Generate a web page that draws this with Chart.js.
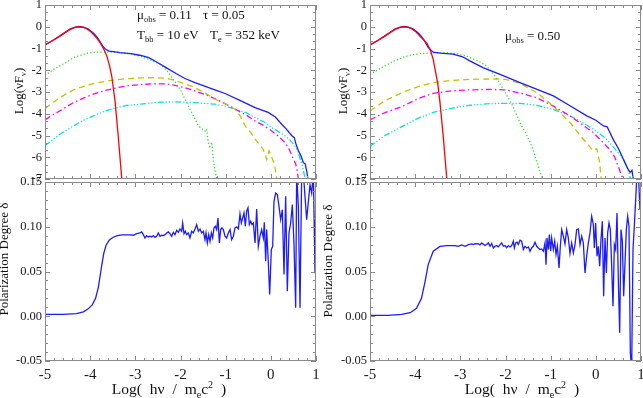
<!DOCTYPE html>
<html>
<head>
<meta charset="utf-8">
<script src="https://cdn.jsdelivr.net/npm/chart.js@4/dist/chart.umd.min.js"></script>
<style>
body { margin: 0; background: #fff; }
#wrap { position: relative; width: 643px; height: 398px; overflow: hidden; background: #fff;
        font-family: "Liberation Serif", "DejaVu Serif", serif; color: #111; }
#wrap canvas { position: absolute; left: 0; top: 0; }
.txt { position: absolute; white-space: nowrap; font-size: 13px; line-height: 14px; }
.rot { position: absolute; white-space: nowrap; font-size: 13px; line-height: 14px;
       transform: translate(-50%, -50%) rotate(-90deg); }
.xt  { position: absolute; white-space: nowrap; font-size: 15.5px; line-height: 16px; word-spacing: 4px;
       transform: translate(-50%, -50%); }
.sb { font-size: 0.65em; position: relative; top: 0.35em; }
.sp { font-size: 0.65em; position: relative; top: -0.6em; }
</style>
</head>
<body>
<div id="wrap">
  <canvas id="specL" width="643" height="398"></canvas>
  <canvas id="specR" width="643" height="398"></canvas>
  <canvas id="polL" width="643" height="398"></canvas>
  <canvas id="polR" width="643" height="398"></canvas>

  <div class="txt" style="left:137px;top:8px">&mu;<span class="sb">obs</span> = 0.11</div>
  <div class="txt" style="left:203px;top:8px">&tau; = 0.05</div>
  <div class="txt" style="left:137px;top:28px">T<span class="sb">bb</span> = 10 eV</div>
  <div class="txt" style="left:210px;top:28px">T<span class="sb">e</span> = 352 keV</div>
  <div class="txt" style="left:505px;top:29px">&mu;<span class="sb">obs</span> = 0.50</div>

  <div class="rot" style="left:19px;top:91px">Log(&nu;F<span class="sb">&nu;</span>)</div>
  <div class="rot" style="left:343px;top:91px">Log(&nu;F<span class="sb">&nu;</span>)</div>
  <div class="rot" style="left:4px;top:259px">Polarization Degree &delta;</div>
  <div class="rot" style="left:328px;top:261px">Polarization Degree &delta;</div>

  <div class="xt" style="left:169px;top:390px">Log( h&nu; / m<span class="sb">e</span>c<span class="sp">2</span> )</div>
  <div class="xt" style="left:522px;top:390px">Log( h&nu; / m<span class="sb">e</span>c<span class="sp">2</span> )</div>
</div>

<script>
// ==========================================================
// DATA — log(nu F_nu) spectra, mu_obs = 0.11 (left panel)
// ==========================================================

const bbL_x  = [-5, -4.8, -4.67, -4.55, -4.45, -4.35, -4.25, -4.15, -4.08, -4.0, -3.93, -3.85, -3.78, -3.7, -3.63, -3.57, -3.52, -3.45, -3.38, -3.3, -3.27];
const bbL_y  = [-0.84, -0.6, -0.43, -0.26, -0.13, -0.04, 0, -0.03, -0.09, -0.2, -0.35, -0.53, -0.73, -1.02, -1.35, -1.8, -2.3, -3.4, -5.0, -7.0, -7.5];

const totL_x = [-5, -4.8, -4.67, -4.55, -4.45, -4.35, -4.25, -4.15, -4.05, -3.95, -3.87, -3.8, -3.72, -3.65, -3.58, -3.45, -3.34, -3.1, -2.9, -2.7, -2.53, -2.3, -2.1, -1.9, -1.68, -1.45, -1.24, -1.0, -0.65, -0.35, -0.06, 0.1, 0.24, 0.35, 0.46, 0.52, 0.55, 0.61, 0.66, 0.72, 0.76, 0.8, 0.84];
const totL_y = [-0.84, -0.6, -0.42, -0.25, -0.11, -0.03, 0.01, -0.02, -0.1, -0.25, -0.42, -0.62, -0.9, -1.05, -1.12, -1.16, -1.19, -1.24, -1.31, -1.42, -1.62, -1.9, -2.15, -2.38, -2.57, -2.74, -2.9, -3.08, -3.42, -3.72, -3.94, -4.15, -4.48, -4.72, -5.0, -5.1, -5.35, -5.7, -5.9, -6.24, -6.3, -6.7, -7.3];

const sc1L_x = [-5, -4.8, -4.67, -4.5, -4.37, -4.2, -4.08, -3.9, -3.71, -3.5, -3.34, -3.1, -2.9, -2.7, -2.45, -2.3, -2.16, -2.0, -1.83, -1.7, -1.6, -1.46, -1.42, -1.39, -1.35, -1.31, -1.27, -1.2, -1.16];
const sc1L_y = [-2.23, -1.95, -1.8, -1.6, -1.42, -1.3, -1.22, -1.17, -1.16, -1.17, -1.19, -1.25, -1.35, -1.5, -1.73, -2.0, -2.42, -2.9, -3.63, -4.15, -4.56, -4.8, -4.7, -5.3, -5.5, -5.3, -6.2, -7.0, -7.3];

const sc2L_x = [-5, -4.8, -4.67, -4.5, -4.37, -4.15, -3.93, -3.7, -3.49, -3.2, -2.9, -2.6, -2.31, -2.12, -1.9, -1.68, -1.45, -1.24, -1.0, -0.79, -0.68, -0.57, -0.45, -0.35, -0.25, -0.17, -0.09, -0.04, 0.02, 0.08, 0.13, 0.15];
const sc2L_y = [-3.76, -3.45, -3.26, -3.05, -2.9, -2.75, -2.61, -2.52, -2.45, -2.39, -2.35, -2.34, -2.37, -2.47, -2.62, -2.8, -3.05, -3.33, -3.55, -3.79, -4.1, -4.56, -4.85, -5.17, -5.4, -5.63, -6.1, -5.7, -6.0, -6.3, -7.0, -7.3];

const sc3L_x = [-5, -4.8, -4.67, -4.5, -4.37, -4.15, -3.93, -3.7, -3.49, -3.2, -2.9, -2.6, -2.31, -2.12, -1.9, -1.68, -1.45, -1.24, -1.0, -0.79, -0.55, -0.35, -0.15, 0.02, 0.15, 0.31, 0.4, 0.5, 0.55, 0.58, 0.61, 0.63];
const sc3L_y = [-4.28, -4.02, -3.87, -3.65, -3.49, -3.28, -3.1, -2.95, -2.84, -2.72, -2.66, -2.62, -2.63, -2.7, -2.8, -2.95, -3.12, -3.3, -3.55, -3.79, -4.05, -4.33, -4.55, -4.79, -5.0, -5.32, -5.6, -6.09, -6.3, -6.6, -7.0, -7.3];

const sc4L_x = [-5, -4.8, -4.67, -4.5, -4.37, -4.15, -3.93, -3.7, -3.49, -3.2, -2.9, -2.5, -2.12, -1.68, -1.24, -1.0, -0.79, -0.55, -0.35, -0.15, 0.02, 0.15, 0.31, 0.42, 0.53, 0.6, 0.65, 0.7, 0.76, 0.78];
const sc4L_y = [-5.47, -5.15, -4.94, -4.72, -4.56, -4.3, -4.1, -3.9, -3.76, -3.62, -3.56, -3.48, -3.45, -3.49, -3.56, -3.65, -3.79, -3.95, -4.17, -4.38, -4.63, -4.8, -5.01, -5.2, -5.47, -5.7, -6.09, -6.4, -7.0, -7.3];


// ==========================================================
// DATA — spectra, mu_obs = 0.50 (right panel)
// ==========================================================

const bbR_x  = [-5, -4.8, -4.67, -4.55, -4.45, -4.35, -4.26, -4.15, -4.08, -4.0, -3.93, -3.85, -3.74, -3.66, -3.6, -3.56, -3.5, -3.45, -3.38, -3.3, -3.27];
const bbR_y  = [-0.84, -0.6, -0.43, -0.26, -0.13, -0.04, 0, -0.03, -0.09, -0.2, -0.35, -0.53, -0.75, -1.1, -1.5, -1.96, -2.6, -3.49, -5.0, -7.0, -7.5];

const totR_x = [-5, -4.8, -4.67, -4.55, -4.45, -4.35, -4.25, -4.15, -4.05, -3.95, -3.87, -3.8, -3.72, -3.65, -3.6, -3.45, -3.16, -2.95, -2.79, -2.5, -2.12, -1.68, -1.3, -0.94, -0.6, -0.2, 0.0, 0.17, 0.25, 0.39, 0.5, 0.61, 0.7, 0.76, 0.8, 0.83, 0.86];
const totR_y = [-0.84, -0.6, -0.42, -0.25, -0.11, -0.03, 0.01, -0.02, -0.1, -0.25, -0.42, -0.62, -0.92, -1.08, -1.17, -1.21, -1.26, -1.38, -1.57, -1.88, -2.19, -2.57, -2.88, -3.18, -3.6, -4.1, -4.3, -4.56, -4.6, -5.2, -5.6, -6.09, -6.5, -6.7, -6.6, -7.0, -7.3];

const sc1R_x = [-5, -4.8, -4.67, -4.5, -4.26, -4.1, -3.89, -3.6, -3.3, -3.05, -2.86, -2.6, -2.42, -2.2, -2.05, -1.85, -1.68, -1.55, -1.46, -1.38, -1.31, -1.18, -1.15];
const sc1R_y = [-2.19, -1.95, -1.8, -1.6, -1.4, -1.3, -1.24, -1.2, -1.19, -1.25, -1.35, -1.58, -1.8, -2.35, -2.87, -3.6, -4.4, -4.9, -5.3, -5.7, -6.2, -7.0, -7.3];

const sc2R_x = [-5, -4.67, -4.26, -3.93, -3.6, -3.2, -2.79, -2.3, -2.0, -1.68, -1.31, -1.05, -0.8, -0.55, -0.35, -0.2, -0.06, 0.02, 0.08, 0.12, 0.14];
const sc2R_y = [-3.87, -3.4, -3.0, -2.75, -2.57, -2.47, -2.42, -2.4, -2.42, -2.6, -3.03, -3.45, -3.94, -4.45, -5.0, -5.35, -5.7, -5.6, -6.2, -7.0, -7.3];

const sc3R_x = [-5, -4.67, -4.26, -3.93, -3.6, -3.2, -2.79, -2.3, -2.0, -1.68, -1.31, -0.94, -0.57, -0.3, -0.06, 0.1, 0.3, 0.42, 0.52, 0.56, 0.61, 0.63];
const sc3R_y = [-4.28, -3.95, -3.64, -3.3, -3.06, -2.95, -2.9, -2.88, -2.9, -3.05, -3.26, -3.65, -4.1, -4.5, -4.86, -5.2, -5.63, -6.0, -6.55, -6.8, -7.0, -7.3];

const sc4R_x = [-5, -4.67, -4.26, -3.93, -3.6, -3.2, -2.79, -2.3, -1.68, -1.31, -0.94, -0.57, -0.3, -0.06, 0.2, 0.3, 0.5, 0.61, 0.7, 0.77, 0.79];
const sc4R_y = [-5.5, -5.0, -4.56, -4.2, -3.94, -3.75, -3.61, -3.53, -3.52, -3.61, -3.8, -4.1, -4.4, -4.7, -5.1, -5.32, -5.8, -6.09, -6.5, -7.0, -7.3];


// ==========================================================
// DATA — polarization degree
// ==========================================================

const polL_x = [-5, -4.6, -4.3, -4.15, -4.05, -3.95, -3.88, -3.82, -3.78, -3.74, -3.7, -3.65, -3.58, -3.5, -3.4, -3.3, -3.2,
  -3.118, -3.044, -2.97, -2.897, -2.86, -2.823, -2.786, -2.749, -2.712, -2.675, -2.638, -2.601, -2.564, -2.528, -2.491, -2.454, -2.417, -2.38, -2.343, -2.306, -2.269, -2.232, -2.196, -2.159, -2.122, -2.085, -2.048, -2.011, -1.974, -1.952, -1.922, -1.893, -1.863, -1.827, -1.79, -1.753, -1.716, -1.679, -1.642, -1.605, -1.568, -1.531, -1.494, -1.458, -1.435, -1.406, -1.376, -1.347, -1.317, -1.288, -1.258, -1.229, -1.199, -1.17, -1.14, -1.111, -1.081, -1.052, -1.015, -0.978, -0.941, -0.904, -0.867, -0.83, -0.793, -0.756, -0.719, -0.683, -0.653, -0.624, -0.594, -0.565, -0.535, -0.506, -0.476, -0.446, -0.417, -0.387, -0.35, -0.314, -0.277, -0.24, -0.203, -0.166, -0.144, -0.114, -0.092, -0.055, -0.026, 0.011, 0.041, 0.07, 0.107, 0.144, 0.181, 0.218, 0.255, 0.292, 0.328, 0.365, 0.402, 0.439, 0.476, 0.513, 0.55, 0.572, 0.609, 0.646, 0.683, 0.72, 0.793, 0.867, 0.904, 0.941, 0.978, 1.0];
const polL_y = [0.002, 0.002, 0.003, 0.005, 0.008, 0.013, 0.02, 0.032, 0.045, 0.058, 0.07, 0.079, 0.085, 0.088, 0.09, 0.091, 0.091,
  0.091, 0.0905, 0.0923, 0.0931, 0.0942, 0.0912, 0.0875, 0.0901, 0.0886, 0.0894, 0.0886, 0.0901, 0.0882, 0.0894, 0.0931, 0.0894, 0.0905, 0.0901, 0.0912, 0.0931, 0.0942, 0.0923, 0.0894, 0.0938, 0.0912, 0.0961, 0.0938, 0.0975, 0.0949, 0.1042, 0.0923, 0.0949, 0.0912, 0.0931, 0.0875, 0.0949, 0.0931, 0.0975, 0.1024, 0.0949, 0.0975, 0.0931, 0.0949, 0.0856, 0.0931, 0.0819, 0.0912, 0.0838, 0.0931, 0.0875, 0.0987, 0.1005, 0.0968, 0.1098, 0.0819, 0.0968, 0.0987, 0.0968, 0.0894, 0.0875, 0.0931, 0.0968, 0.0856, 0.0894, 0.0987, 0.0998, 0.0975, 0.1143, 0.1042, 0.1098, 0.1154, 0.1005, 0.1173, 0.121, 0.1024, 0.1061, 0.1024, 0.1042, 0.0819, 0.1199, 0.0782, 0.0894, 0.0968, 0.0875, 0.105, 0.0615, 0.0968, 0.0596, 0.0243, 0.0745, 0.0782, 0.1284, 0.1377, 0.1359, 0.1228, 0.108, 0.1191, 0.0466, 0.134, 0.028, 0.0931, 0.1042, 0.1247, 0.08, 0.0094, 0.16, 0.1228, 0.0094, 0.16, 0.16, 0.108, 0.147, 0.1377, 0.16, 0.048, 0.16];

const polR_x = [-5, -4.6, -4.3, -4.11, -3.97, -3.86, -3.78, -3.71, -3.6, -3.45, -3.3, -3.16,
  -3.118, -3.044, -2.97, -2.897, -2.823, -2.749, -2.712, -2.675, -2.601, -2.564, -2.528, -2.454, -2.417, -2.38, -2.343, -2.306, -2.269, -2.232, -2.196, -2.159, -2.122, -2.085, -2.048, -2.011, -1.974, -1.937, -1.9, -1.863, -1.827, -1.804, -1.775, -1.745, -1.716, -1.679, -1.642, -1.605, -1.568, -1.531, -1.494, -1.458, -1.421, -1.384, -1.347, -1.31, -1.273, -1.236, -1.199, -1.162, -1.125, -1.103, -1.081, -1.052, -1.029, -1.0, -0.978, -0.941, -0.911, -0.882, -0.852, -0.815, -0.786, -0.756, -0.719, -0.683, -0.646, -0.609, -0.572, -0.535, -0.498, -0.461, -0.424, -0.387, -0.35, -0.314, -0.277, -0.24, -0.203, -0.166, -0.129, -0.092, -0.055, -0.033, -0.004, 0.026, 0.055, 0.085, 0.114, 0.144, 0.173, 0.203, 0.233, 0.262, 0.292, 0.321, 0.351, 0.38, 0.41, 0.439, 0.469, 0.498, 0.528, 0.557, 0.587, 0.616, 0.646, 0.675, 0.705, 0.734, 0.764, 0.793, 0.823, 0.852, 0.882, 0.911, 0.941, 0.978, 1.0];
const polR_y = [0.001, 0.001, 0.002, 0.004, 0.009, 0.02, 0.039, 0.058, 0.0726, 0.078, 0.079, 0.079,
  0.079, 0.0782, 0.0797, 0.0782, 0.0801, 0.0808, 0.0801, 0.0812, 0.0808, 0.0797, 0.0819, 0.079, 0.0801, 0.0819, 0.0782, 0.0812, 0.0763, 0.0782, 0.079, 0.0775, 0.0801, 0.0819, 0.0782, 0.079, 0.0767, 0.079, 0.0775, 0.079, 0.0838, 0.0763, 0.0819, 0.0827, 0.0801, 0.0849, 0.0838, 0.0745, 0.0782, 0.0763, 0.0775, 0.0726, 0.0763, 0.0782, 0.0827, 0.0782, 0.0763, 0.0745, 0.0752, 0.0726, 0.0819, 0.0577, 0.0875, 0.0745, 0.0912, 0.0726, 0.0875, 0.0745, 0.0838, 0.0689, 0.0782, 0.054, 0.0782, 0.0968, 0.0894, 0.0808, 0.0968, 0.0875, 0.07, 0.0819, 0.0708, 0.0801, 0.0968, 0.0975, 0.0801, 0.0894, 0.0819, 0.0484, 0.067, 0.0819, 0.0931, 0.1117, 0.1024, 0.0763, 0.1042, 0.067, 0.0782, 0.0559, 0.0856, 0.1061, 0.0224, 0.0875, 0.0484, 0.0931, 0.1042, 0.0968, 0.0559, 0.0112, 0.0801, 0.0745, 0.1154, 0.041, -0.0185, 0.0968, 0.0838, 0.0224, 0.0596, 0.0968, 0.1117, 0.1005, -0.0408, -0.06, 0.0745, 0.1005, 0.1303, 0.16, 0.16, 0.1191, 0.1452];


// ==========================================================
// STYLE
// ==========================================================

const FRAME = "#8a8a8a";
const TICKTXT = "#1a1a1a";
const SERIF = "'Liberation Serif', 'DejaVu Serif', serif";

function pts(xs, ys)
{
    return xs.map((x, i) => ({ x: x, y: ys[i] }));
}

function isMajor(v, step)
{
    const r = v / step;
    return Math.abs(r - Math.round(r)) < 1e-6;
}

// frame round the plot area with inward ticks on all four sides
const framePlugin = {
    id: "frame",
    afterDatasetsDraw(chart, args, opts)
    {
        const { ctx, chartArea: a, scales } = chart;
        ctx.save();
        ctx.strokeStyle = FRAME;
        ctx.lineWidth = 1;
        ctx.beginPath();

        scales.x.ticks.forEach(t =>
        {
            const px = Math.round(scales.x.getPixelForValue(t.value)) + 0.5;
            const len = isMajor(t.value, opts.xMajor) ? 5 : 3;
            ctx.moveTo(px, a.bottom); ctx.lineTo(px, a.bottom - len);
            ctx.moveTo(px, a.top);    ctx.lineTo(px, a.top + len);
        });

        scales.y.ticks.forEach(t =>
        {
            const py = Math.round(scales.y.getPixelForValue(t.value)) + 0.5;
            const len = isMajor(t.value, opts.yMajor) ? 5 : 3;
            ctx.moveTo(a.left, py);  ctx.lineTo(a.left + len, py);
            ctx.moveTo(a.right, py); ctx.lineTo(a.right - len, py);
        });

        ctx.stroke();
        ctx.strokeRect(a.left + 0.5, a.top + 0.5, a.right - a.left - 1, a.bottom - a.top - 1);
        ctx.restore();
    }
};

function zeroPad(s)
{
    s.paddingLeft = 0; s.paddingRight = 0;
    s.paddingTop = 0; s.paddingBottom = 0;
}

// minor ticks every third of a decade on the log(nuFnu) axis
function thirdTicks(s)
{
    const t = [];
    for (let i = 0; i <= 24; i++) t.push({ value: -7 + i / 3 });
    s.ticks = t;
}


// ==========================================================
// CHART BUILDERS
// ==========================================================

function spectrumChart(id, areaLeft, areaRight, series)
{
    const sets = [
        { data: pts(series.bb[0],  series.bb[1]),  borderColor: "#ff0000", order: 0 },
        { data: pts(series.tot[0], series.tot[1]), borderColor: "#1c1cff", order: 1 },
        { data: pts(series.s1[0],  series.s1[1]),  borderColor: "#22e022", borderDash: [1.2, 2.2], order: 2 },
        { data: pts(series.s2[0],  series.s2[1]),  borderColor: "#c8c000", borderDash: [6, 4], order: 3 },
        { data: pts(series.s3[0],  series.s3[1]),  borderColor: "#ff00ff", borderDash: [6, 3, 1.5, 3], order: 4 },
        { data: pts(series.s4[0],  series.s4[1]),  borderColor: "#00e0e0", borderDash: [6, 2, 1.2, 2, 1.2, 2, 1.2, 2], order: 5 }
    ];

    return new Chart(document.getElementById(id), {
        type: "scatter",
        data: { datasets: sets.map(s => Object.assign({ showLine: true, borderWidth: 1.3, pointRadius: 0 }, s)) },
        options: {
            responsive: false,
            animation: false,
            events: [],
            layout: { autoPadding: false, padding: { left: areaLeft - 40, right: 643 - areaRight, top: 5, bottom: 398 - 179 } },
            plugins: { legend: { display: false }, tooltip: { enabled: false }, frame: { xMajor: 1, yMajor: 1 } },
            scales: {
                x: {
                    type: "linear", min: -5, max: 1,
                    ticks: { stepSize: 0.2, display: false, autoSkip: false },
                    grid: { display: false }, border: { display: false },
                    afterFit: s => { s.height = 0; zeroPad(s); }
                },
                y: {
                    type: "linear", min: -7, max: 1,
                    afterBuildTicks: thirdTicks,
                    ticks: {
                        autoSkip: false, padding: 3, color: TICKTXT,
                        font: { family: SERIF, size: 12.5 },
                        callback: v => isMajor(v, 1) ? String(Math.round(v)) : ""
                    },
                    grid: { display: false, drawTicks: false }, border: { display: false },
                    afterFit: s => { s.width = 40; zeroPad(s); }
                }
            }
        },
        plugins: [framePlugin]
    });
}

function polarChart(id, areaLeft, areaRight, xs, ys)
{
    return new Chart(document.getElementById(id), {
        type: "scatter",
        data: { datasets: [{ data: pts(xs, ys), showLine: true, borderColor: "#1c1cff", borderWidth: 1.3, pointRadius: 0 }] },
        options: {
            responsive: false,
            animation: false,
            events: [],
            layout: { autoPadding: false, padding: { left: areaLeft - 40, right: 643 - areaRight, top: 182, bottom: 0 } },
            plugins: { legend: { display: false }, tooltip: { enabled: false }, frame: { xMajor: 1, yMajor: 0.05 } },
            scales: {
                x: {
                    type: "linear", min: -5, max: 1,
                    ticks: {
                        stepSize: 0.2, autoSkip: false, maxRotation: 0, padding: 5, color: TICKTXT,
                        font: { family: SERIF, size: 15 },
                        callback: v => isMajor(v, 1) ? String(Math.round(v)) : ""
                    },
                    grid: { display: false, drawTicks: false }, border: { display: false },
                    afterFit: s => { s.height = 37; zeroPad(s); }
                },
                y: {
                    type: "linear", min: -0.05, max: 0.15,
                    ticks: {
                        stepSize: 0.01, autoSkip: false, padding: 3, color: TICKTXT,
                        font: { family: SERIF, size: 12.5 },
                        callback: v => isMajor(v, 0.05) ? v.toFixed(2) : ""
                    },
                    grid: { display: false, drawTicks: false }, border: { display: false },
                    afterFit: s => { s.width = 40; zeroPad(s); }
                }
            }
        },
        plugins: [framePlugin]
    });
}


// ==========================================================
// ENTRY POINT
// ==========================================================

spectrumChart("specL", 45, 316, {
    bb: [bbL_x, bbL_y], tot: [totL_x, totL_y],
    s1: [sc1L_x, sc1L_y], s2: [sc2L_x, sc2L_y], s3: [sc3L_x, sc3L_y], s4: [sc4L_x, sc4L_y]
});

spectrumChart("specR", 370, 641, {
    bb: [bbR_x, bbR_y], tot: [totR_x, totR_y],
    s1: [sc1R_x, sc1R_y], s2: [sc2R_x, sc2R_y], s3: [sc3R_x, sc3R_y], s4: [sc4R_x, sc4R_y]
});

polarChart("polL", 45, 316, polL_x, polL_y);
polarChart("polR", 370, 641, polR_x, polR_y);
</script>
</body>
</html>
